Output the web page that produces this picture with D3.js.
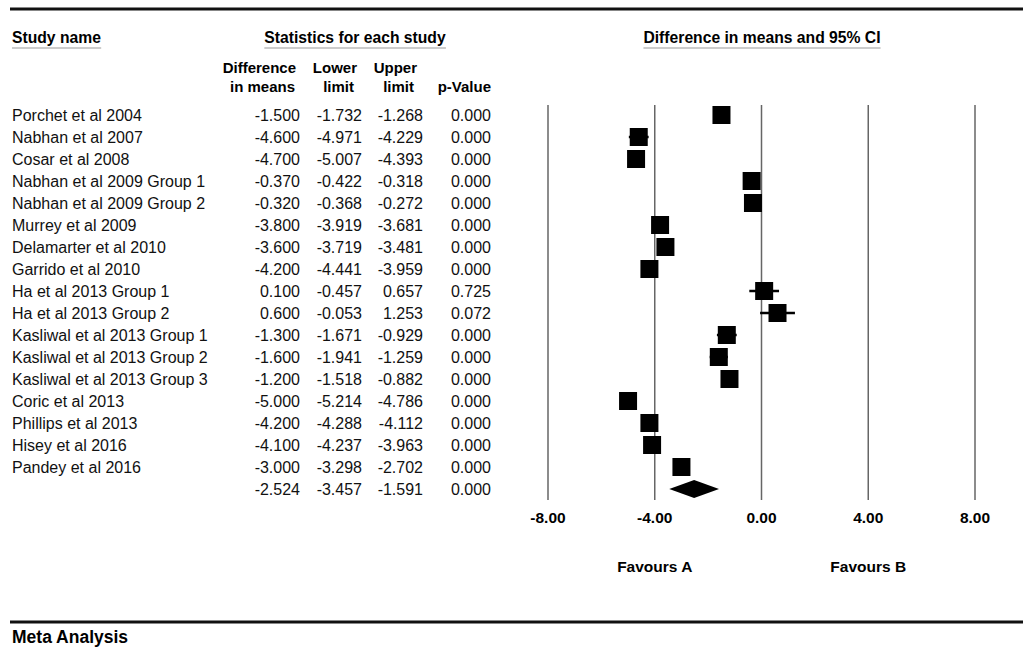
<!DOCTYPE html>
<html>
<head>
<meta charset="utf-8">
<script src="https://cdn.jsdelivr.net/npm/d3@7"></script>
<style>
  body { margin: 0; background: #fff; }
  text { font-family: "Liberation Sans", Arial, Helvetica, sans-serif; fill: #111; }
  .bold { font-weight: bold; fill: #000; }
</style>
</head>
<body>
<div id="my_dataviz"></div>
<script>
// study data
var studies = ["Porchet et al 2004", "Nabhan et al 2007", "Cosar et al 2008",
  "Nabhan et al 2009 Group 1", "Nabhan et al 2009 Group 2", "Murrey et al 2009",
  "Delamarter et al 2010", "Garrido et al 2010", "Ha et al 2013 Group 1",
  "Ha et al 2013 Group 2", "Kasliwal et al 2013 Group 1", "Kasliwal et al 2013 Group 2",
  "Kasliwal et al 2013 Group 3", "Coric et al 2013", "Phillips et al 2013",
  "Hisey et al 2016", "Pandey et al 2016"];
var diffs  = [-1.500, -4.600, -4.700, -0.370, -0.320, -3.800, -3.600, -4.200, 0.100, 0.600, -1.300, -1.600, -1.200, -5.000, -4.200, -4.100, -3.000];
var lowers = [-1.732, -4.971, -5.007, -0.422, -0.368, -3.919, -3.719, -4.441, -0.457, -0.053, -1.671, -1.941, -1.518, -5.214, -4.288, -4.237, -3.298];
var uppers = [-1.268, -4.229, -4.393, -0.318, -0.272, -3.681, -3.481, -3.959, 0.657, 1.253, -0.929, -1.259, -0.882, -4.786, -4.112, -3.963, -2.702];
var pvals  = [0.000, 0.000, 0.000, 0.000, 0.000, 0.000, 0.000, 0.000, 0.725, 0.072, 0.000, 0.000, 0.000, 0.000, 0.000, 0.000, 0.000];
// pooled estimate
var summary = {diff: -2.524, lower: -3.457, upper: -1.591, p: 0.000};
var xTicks = [-8, -4, 0, 4, 8];

var width = 1023, height = 657;

var loc = d3.formatLocale({decimal: ".", thousands: ",", grouping: [3], currency: ["", ""], minus: "-"});
var f3 = loc.format(".3f"), f2 = loc.format(".2f");

var svg = d3.select("#my_dataviz")
  .append("svg")
    .attr("width", width)
    .attr("height", height);

// rows: one per study plus the summary row
var rows = studies.concat(["__summary"]);
var y = d3.scalePoint()
  .domain(rows)
  .range([115, 489]);

var x = d3.scaleLinear()
  .domain([-8, 8])
  .range([548, 975]);

// top and bottom rules
svg.append("line").attr("x1", 10).attr("x2", width).attr("y1", 9).attr("y2", 9)
  .attr("stroke", "#111").attr("stroke-width", 3);
svg.append("line").attr("x1", 10).attr("x2", width).attr("y1", 622).attr("y2", 622)
  .attr("stroke", "#111").attr("stroke-width", 3);

// section headers, underlined
function header(txt, xpos, anchor) {
  var t = svg.append("text")
    .attr("class", "bold")
    .attr("x", xpos).attr("y", 43)
    .attr("text-anchor", anchor)
    .style("font-size", "15.7px")
    .text(txt);
  var bb = t.node().getBBox();
  svg.append("line")
    .attr("x1", bb.x).attr("x2", bb.x + bb.width)
    .attr("y1", 48).attr("y2", 48)
    .attr("stroke", "#999").attr("stroke-width", 1);
}
header("Study name", 12, "start");
header("Statistics for each study", 355, "middle");
header("Difference in means and 95% CI", 762, "middle");

// column headers
var colX = [300, 362, 423, 491];
var colHead = [["Difference", "in means"], ["Lower", "limit"], ["Upper", "limit"], ["", "p-Value"]];
var headX = [296, 357, 417, 491];
colHead.forEach(function(h, i) {
  svg.append("text").attr("class", "bold")
    .attr("x", headX[i]).attr("y", 73).attr("text-anchor", "end")
    .style("font-size", "15px").text(h[0]);
  svg.append("text").attr("class", "bold")
    .attr("x", headX[i] - (i == 1 || i == 2 ? 3 : (i == 0 ? 1 : 0))).attr("y", 92).attr("text-anchor", "end")
    .style("font-size", "15px").text(h[1]);
});

// table rows
var tableData = studies.map(function(s, i) {
  return {key: s, name: s, vals: [diffs[i], lowers[i], uppers[i], pvals[i]]};
});
tableData.push({key: "__summary", name: "", vals: [summary.diff, summary.lower, summary.upper, summary.p]});

var rowG = svg.selectAll(".row")
  .data(tableData)
  .enter().append("g")
    .attr("class", "row")
    .attr("transform", function(d) { return "translate(0," + (y(d.key) + 5.5) + ")"; });

rowG.append("text")
  .attr("x", 12)
  .style("font-size", "16px")
  .text(function(d) { return d.name; });

colX.forEach(function(cx, i) {
  rowG.append("text")
    .attr("x", cx)
    .attr("text-anchor", "end")
    .style("font-size", "16px")
    .text(function(d) { return f3(d.vals[i]); });
});

// vertical grid lines at the ticks
svg.selectAll(".vline")
  .data(xTicks)
  .enter().append("line")
    .attr("x1", function(d) { return x(d); })
    .attr("x2", function(d) { return x(d); })
    .attr("y1", 105).attr("y2", 500)
    .attr("stroke", "#666").attr("stroke-width", 1.5);

// tick labels
svg.selectAll(".tlab")
  .data(xTicks)
  .enter().append("text")
    .attr("class", "bold")
    .attr("x", function(d) { return x(d); })
    .attr("y", 523)
    .attr("text-anchor", "middle")
    .style("font-size", "15.5px")
    .text(function(d) { return f2(d); });

svg.append("text").attr("class", "bold")
  .attr("x", x(-4)).attr("y", 572).attr("text-anchor", "middle")
  .style("font-size", "15.5px").text("Favours A");
svg.append("text").attr("class", "bold")
  .attr("x", x(4)).attr("y", 572).attr("text-anchor", "middle")
  .style("font-size", "15.5px").text("Favours B");

// confidence intervals
var studyData = tableData.slice(0, studies.length);
svg.selectAll(".ci")
  .data(studyData)
  .enter().append("line")
    .attr("x1", function(d) { return x(d.vals[1]); })
    .attr("x2", function(d) { return x(d.vals[2]); })
    .attr("y1", function(d) { return y(d.key); })
    .attr("y2", function(d) { return y(d.key); })
    .attr("stroke", "#000").attr("stroke-width", 2.5);

// effect squares
var sq = 18;
svg.selectAll(".sq")
  .data(studyData)
  .enter().append("rect")
    .attr("x", function(d) { return x(d.vals[0]) - sq / 2; })
    .attr("y", function(d) { return y(d.key) - sq / 2; })
    .attr("width", sq).attr("height", sq)
    .attr("fill", "#000");

// summary diamond
var yc = y("__summary");
svg.append("path")
  .attr("d", "M" + x(summary.lower) + "," + yc +
             "L" + x(summary.diff) + "," + (yc - 9) +
             "L" + x(summary.upper) + "," + yc +
             "L" + x(summary.diff) + "," + (yc + 9) + "Z")
  .attr("fill", "#000");

svg.append("text").attr("class", "bold")
  .attr("x", 12).attr("y", 643)
  .style("font-size", "17.5px")
  .text("Meta Analysis");
</script>
</body>
</html>
